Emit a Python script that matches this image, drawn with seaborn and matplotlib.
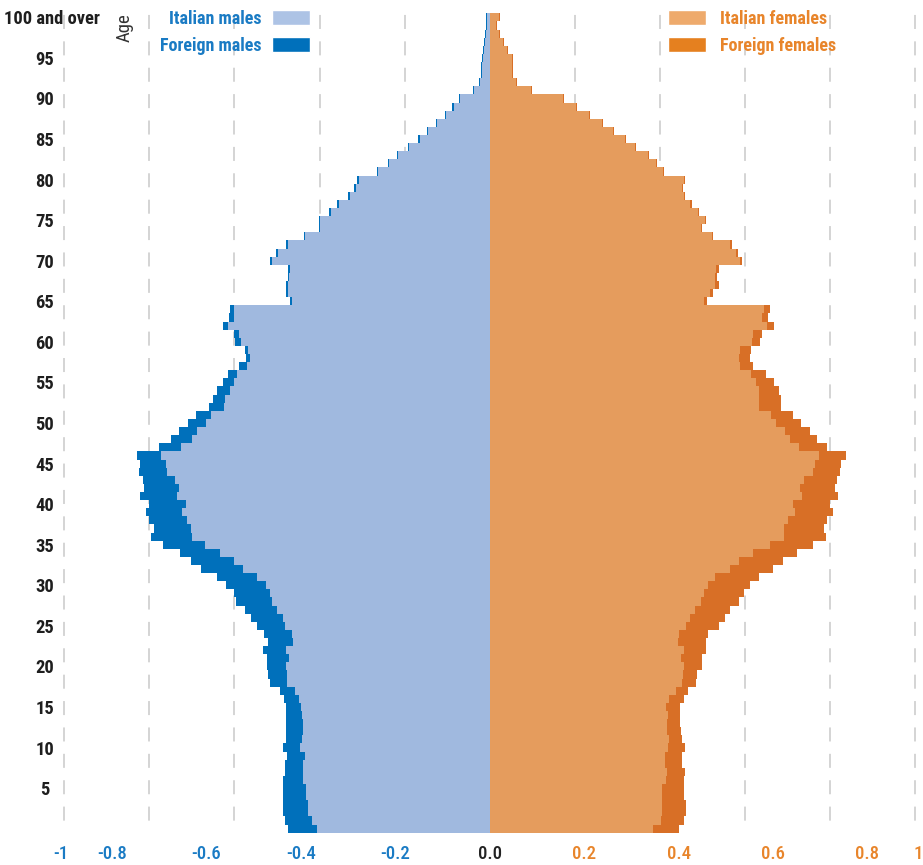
import matplotlib
matplotlib.use("Agg")
import matplotlib.pyplot as plt
import matplotlib.transforms as mtransforms
import seaborn as sns
import pandas as pd
from matplotlib import font_manager
from matplotlib.patches import Patch
from matplotlib.ticker import FixedLocator

# ---------------- data (share of population, %) ----------------
ages = list(range(101))

italian_males = [
    0.406, 0.418, 0.426, 0.427, 0.432, 0.432, 0.438, 0.440, 0.440, 0.435,
    0.445, 0.441, 0.440, 0.440, 0.441, 0.443, 0.448, 0.457, 0.477, 0.477,
    0.478, 0.471, 0.478, 0.463, 0.465, 0.482, 0.487, 0.499, 0.512, 0.516,
    0.526, 0.547, 0.580, 0.602, 0.634, 0.669, 0.700, 0.702, 0.712, 0.724,
    0.713, 0.735, 0.730, 0.739, 0.759, 0.760, 0.773, 0.725, 0.700, 0.688,
    0.666, 0.655, 0.624, 0.622, 0.610, 0.602, 0.593, 0.571, 0.563, 0.567,
    0.585, 0.590, 0.616, 0.601, 0.601, 0.465, 0.475, 0.475, 0.471, 0.469,
    0.512, 0.498, 0.475, 0.433, 0.399, 0.399, 0.374, 0.355, 0.329, 0.315,
    0.308, 0.262, 0.237, 0.216, 0.189, 0.165, 0.144, 0.124, 0.103, 0.085,
    0.069, 0.038, 0.022, 0.019, 0.018, 0.016, 0.014, 0.011, 0.009, 0.006, 0.006]

foreign_males = [
    0.067, 0.063, 0.061, 0.058, 0.055, 0.053, 0.049, 0.041, 0.041, 0.042,
    0.041, 0.037, 0.038, 0.038, 0.037, 0.035, 0.035, 0.037, 0.039, 0.043,
    0.046, 0.053, 0.055, 0.059, 0.065, 0.065, 0.074, 0.076, 0.084, 0.085,
    0.093, 0.093, 0.099, 0.100, 0.095, 0.099, 0.096, 0.088, 0.088, 0.083,
    0.089, 0.087, 0.082, 0.075, 0.065, 0.062, 0.056, 0.052, 0.049, 0.043,
    0.043, 0.035, 0.035, 0.029, 0.030, 0.024, 0.021, 0.018, 0.009, 0.008,
    0.013, 0.011, 0.010, 0.011, 0.009, 0.004, 0.004, 0.004, 0.004, 0.004,
    0.004, 0.004, 0.004, 0.003, 0.003, 0.003, 0.003, 0.003, 0.003, 0.003,
    0.003, 0.003, 0.003, 0.003, 0.003, 0.003, 0.003, 0.003, 0.003, 0.003,
    0.003, 0.002, 0.002, 0.002, 0.002, 0.002, 0.002, 0.002, 0.002, 0.002, 0.002]

italian_females = [
    0.385, 0.403, 0.406, 0.406, 0.406, 0.406, 0.415, 0.417, 0.413, 0.413,
    0.420, 0.422, 0.417, 0.417, 0.418, 0.415, 0.422, 0.438, 0.452, 0.454,
    0.456, 0.450, 0.456, 0.442, 0.444, 0.462, 0.470, 0.482, 0.496, 0.503,
    0.513, 0.530, 0.564, 0.587, 0.620, 0.659, 0.692, 0.692, 0.702, 0.718,
    0.713, 0.734, 0.730, 0.739, 0.760, 0.765, 0.773, 0.728, 0.706, 0.695,
    0.673, 0.662, 0.634, 0.634, 0.633, 0.626, 0.614, 0.589, 0.587, 0.589,
    0.616, 0.620, 0.653, 0.640, 0.645, 0.503, 0.517, 0.529, 0.529, 0.531,
    0.588, 0.578, 0.564, 0.522, 0.497, 0.506, 0.490, 0.472, 0.456, 0.452,
    0.456, 0.407, 0.391, 0.371, 0.342, 0.318, 0.290, 0.264, 0.233, 0.203,
    0.172, 0.097, 0.061, 0.053, 0.053, 0.053, 0.041, 0.032, 0.022, 0.014, 0.022]

foreign_females = [
    0.061, 0.053, 0.056, 0.056, 0.051, 0.051, 0.041, 0.043, 0.039, 0.039,
    0.040, 0.030, 0.032, 0.031, 0.030, 0.033, 0.035, 0.029, 0.033, 0.033,
    0.043, 0.049, 0.053, 0.067, 0.068, 0.076, 0.082, 0.083, 0.091, 0.094,
    0.098, 0.103, 0.103, 0.102, 0.102, 0.100, 0.098, 0.094, 0.091, 0.089,
    0.087, 0.084, 0.081, 0.077, 0.064, 0.061, 0.064, 0.065, 0.063, 0.058,
    0.058, 0.052, 0.051, 0.051, 0.048, 0.043, 0.036, 0.030, 0.025, 0.025,
    0.020, 0.021, 0.016, 0.015, 0.013, 0.008, 0.009, 0.009, 0.006, 0.009,
    0.006, 0.006, 0.006, 0.004, 0.003, 0.003, 0.003, 0.003, 0.003, 0.003,
    0.003, 0.003, 0.003, 0.003, 0.003, 0.003, 0.003, 0.003, 0.003, 0.003,
    0.003, 0.002, 0.002, 0.002, 0.002, 0.002, 0.002, 0.002, 0.002, 0.002, 0.002]

age_tick_values = [5, 10, 15, 20, 25, 30, 35, 40, 45, 50, 55, 60, 65, 70, 75, 80, 85, 90, 95, 100]
age_tick_labels = [str(v) for v in age_tick_values[:-1]] + ["100 and over"]

x_label_positions = [-1.008, -0.888, -0.666, -0.444, -0.222, 0.0, 0.222, 0.444, 0.666, 0.888, 1.008]
x_label_texts = ["-1", "-0.8", "-0.6", "-0.4", "-0.2", "0.0", "0.2", "0.4", "0.6", "0.8", "1"]
grid_values = [-1.0, -0.8, -0.6, -0.4, -0.2, 0.2, 0.4, 0.6, 0.8, 1.0]

# ---------------- style ----------------
C_IM = "#A0B9DF"
C_FM = "#0070BB"
C_IF = "#E59C5D"
C_FF = "#D86F26"
C_IM_LEG = "#ADC3E5"
C_FM_LEG = "#0070BB"
C_IF_LEG = "#EEAA6C"
C_FF_LEG = "#E5801F"
BLUE_TXT = "#1A7BC4"
ORANGE_TXT = "#E8852B"

sns.set_style("white")
available = {f.name for f in font_manager.fontManager.ttflist}
narrow = next((f for f in ["Liberation Sans Narrow", "Roboto Condensed",
                           "DejaVu Sans Condensed", "Open Sans Condensed"]
               if f in available), "DejaVu Sans")
plt.rcParams["font.family"] = [narrow, "DejaVu Sans"]
plt.rcParams["lines.scale_dashes"] = False

fig = plt.figure(figsize=(9.23, 8.65), dpi=100)
ax = fig.add_axes([57.9 / 923, 32.3 / 865, 863.6 / 923, 819.4 / 865])

df = pd.DataFrame({"age": ages, "im": italian_males, "fm": foreign_males,
                   "if": italian_females, "ff": foreign_females})
df["male_total"] = -(df["im"] + df["fm"])
df["male_italian"] = -df["im"]
df["female_total"] = df["if"] + df["ff"]
df["female_italian"] = df["if"]

for col, color in [("male_total", C_FM), ("male_italian", C_IM),
                   ("female_total", C_FF), ("female_italian", C_IF)]:
    sns.barplot(data=df, x=col, y="age", orient="y", native_scale=True,
                color=color, saturation=1, width=1, linewidth=0,
                errorbar=None, ax=ax)

ax.set_xlim(-1.015, 1.015)
ax.set_ylim(-0.5, 100.5)
ax.set_xlabel("")
ax.set_ylabel("")
for s in ax.spines.values():
    s.set_visible(False)

# grid lines (minor ticks) and labels (major ticks)
ax.set_xticks(x_label_positions, x_label_texts)
ax.xaxis.set_minor_locator(FixedLocator(grid_values))
ax.grid(False, which="major")
ax.grid(True, which="minor", axis="x", color="#CDCDCD", linewidth=1.2,
        linestyle=(10.1, (10.1, 8.9)))
ax.set_axisbelow(True)
ax.tick_params(axis="x", which="both", length=0, pad=9, labelsize=13.5)
x_colors = [BLUE_TXT] * 5 + ["#222222"] + [ORANGE_TXT] * 5
for lab, c in zip(ax.get_xticklabels(), x_colors):
    lab.set_color(c)
    lab.set_fontweight("medium")

ax.set_yticks(age_tick_values, age_tick_labels)
ax.tick_params(axis="y", which="both", length=0, pad=9.5, labelsize=13.3,
               labelcolor="#1E1E1E")
ylabels = ax.get_yticklabels()
for lab in ylabels:
    lab.set_fontweight("bold")
    lab.set_ha("center")
# the top label sits a little further right in the original
top_lab = ylabels[-1]
top_lab.set_transform(top_lab.get_transform() +
                      mtransforms.ScaledTranslation(7 / 100, 0, fig.dpi_scale_trans))

ax.text(0.0775, 1.0, "Age", transform=ax.transAxes, rotation=90,
        ha="center", va="top", fontsize=13.5, color="#333333")

# legends
male_handles = [Patch(facecolor=C_IM_LEG, label="Italian males"),
                Patch(facecolor=C_FM_LEG, label="Foreign males")]
female_handles = [Patch(facecolor=C_IF_LEG, label="Italian females"),
                  Patch(facecolor=C_FF_LEG, label="Foreign females")]
leg_kw = dict(bbox_transform=fig.transFigure, frameon=False,
              handlelength=2.1, handleheight=0.9, labelspacing=0.5,
              borderpad=0, borderaxespad=0,
              prop=dict(weight="bold", size=13))
leg1 = ax.legend(handles=male_handles, loc="upper right",
                 bbox_to_anchor=(310 / 923, 1 - 10 / 865), markerfirst=False,
                 handletextpad=0.6, labelcolor=BLUE_TXT, **leg_kw)
ax.add_artist(leg1)
leg2 = ax.legend(handles=female_handles, loc="upper left",
                 bbox_to_anchor=(668 / 923, 1 - 10 / 865), markerfirst=True,
                 handletextpad=0.8, labelcolor=ORANGE_TXT, **leg_kw)

fig.savefig("out.png", dpi=100)
